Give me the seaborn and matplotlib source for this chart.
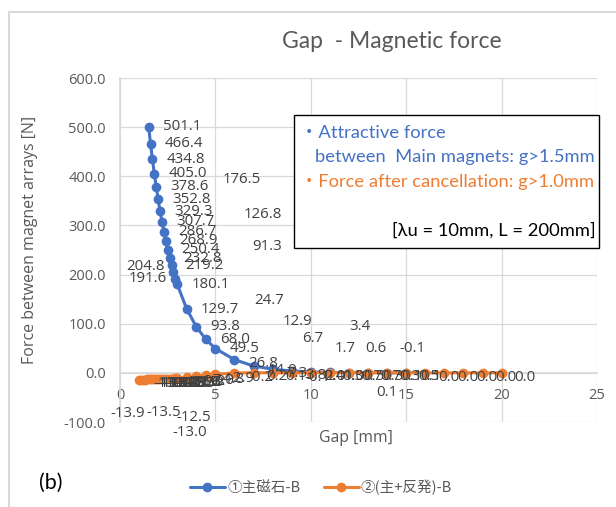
import matplotlib
matplotlib.use("Agg")
import matplotlib.pyplot as plt
import seaborn as sns
import numpy as np
from matplotlib.patches import Rectangle
from matplotlib.lines import Line2D
from matplotlib.font_manager import FontProperties

# ---------------- data ----------------
blue_gap = [1.5, 1.6, 1.7, 1.8, 1.9, 2.0, 2.1, 2.2, 2.3, 2.4, 2.5, 2.6, 2.7, 2.8, 2.9, 3.0,
            3.5, 4.0, 4.5, 5.0, 6, 7, 8, 9, 10, 11, 12, 13, 14, 15]
blue_force = [501.1, 466.4, 434.8, 405.0, 378.6, 352.8, 329.3, 307.7, 286.7, 268.9, 250.4,
              232.8, 219.2, 204.8, 191.6, 180.1, 129.7, 93.8, 68.0, 49.5, 26.8, 14.0, 7.3,
              3.8, 2.0, 1.0, 0.5, 0.3, 0.1, 0.1]

orange_gap = [1.0, 1.1, 1.2, 1.3, 1.4, 1.5, 1.6, 1.7, 1.8, 1.9, 2.0, 2.1, 2.2, 2.3, 2.4, 2.5,
              2.6, 2.7, 2.8, 2.9, 3.0, 3.5, 4.0, 4.5, 5.0, 6, 7, 8, 9, 10, 11, 12, 13, 14,
              15, 16, 17, 18, 19, 20]
orange_force = [-13.9, -13.8, -13.7, -13.6, -13.5, -13.4, -13.3, -13.2, -13.1, -13.0, -12.9,
                -12.8, -12.7, -12.6, -12.5, -12.3, -12.1, -11.9, -11.6, -11.3, -11.0, -9.2,
                -7.0, -4.8, -2.9, -0.2, 0.2, 0.1, -0.1, 0.4, 0.3, 0.7, 0.7, 0.3, 0.5, 0.0,
                0.0, 0.0, 0.0, 0.0]

# extra (displaced) data labels shown in the original chart
extra_labels = [176.5, 126.8, 91.3, 24.7, 12.9, 6.7, 3.4, 1.7, 0.6, -0.1, 0.1]

series_names = ["①主磁石-B", "②(主+反発)-B"]
title = "Gap  - Magnetic force"
xlabel = "Gap [mm]"
ylabel = "Force between magnet arrays [N]"
x_ticks = [0, 5, 10, 15, 20, 25]
y_ticks = [-100, 0, 100, 200, 300, 400, 500, 600]

# ---------------- layout / style ----------------
BLUE = "#4472C4"
ORANGE = "#ED7D31"
GREY = "#595959"
LBL = "#404040"
NUMF = ["Open Sans", "Noto Sans CJK JP", "DejaVu Sans"]
CALF = ["Lato", "Noto Sans CJK JP", "DejaVu Sans"]
JPF = ["Noto Sans CJK JP", "DejaVu Sans"]

sns.set_theme(style="white")
plt.rcParams["font.family"] = NUMF

fig = plt.figure(figsize=(6.16, 5.07), dpi=100)
ax = fig.add_axes([120 / 616, 1 - 422 / 507, (597 - 120) / 616, (422 - 78) / 507])

sns.lineplot(x=blue_gap, y=blue_force, ax=ax, color=BLUE, marker="o", markersize=7,
             markeredgewidth=0, linewidth=2.2, sort=False, zorder=3)
sns.lineplot(x=orange_gap, y=orange_force, ax=ax, color=ORANGE, marker="o", markersize=7,
             markeredgewidth=0, linewidth=2.2, sort=False, zorder=4)

ax.set_xlim(0, 25)
ax.set_ylim(-100, 600)
ax.set_xticks(x_ticks)
ax.set_yticks(y_ticks)
ax.set_xticklabels([str(t) for t in x_ticks])
ax.set_yticklabels([f"{t:.1f}" for t in y_ticks])
ax.grid(True, color="#D9D9D9", linewidth=0.9)
ax.set_axisbelow(True)
for s in ["top", "right"]:
    ax.spines[s].set_visible(False)
ax.spines["left"].set_color("#D9D9D9")
ax.spines["bottom"].set_color("#D9D9D9")
ax.spines["bottom"].set_position(("data", 0))
ax.tick_params(axis="both", length=0, colors=GREY, labelsize=10.5)
ax.tick_params(axis="x", pad=11)
ax.tick_params(axis="y", pad=10)
ax.set_xlabel("")
ax.set_ylabel("")

LFS = 10.8
# data labels: blue
left_side = {13, 14}
for i, (x, y) in enumerate(zip(blue_gap, blue_force)):
    if i in left_side:
        ax.annotate(f"{y:.1f}", (x, y), xytext=(-6, 4 if i == 13 else 0), textcoords="offset points",
                    ha="right", va="center", fontsize=LFS, color=LBL, zorder=6)
    else:
        ax.annotate(f"{y:.1f}", (x, y), xytext=(10, 0 if y > 40 else -3), textcoords="offset points",
                    ha="left", va="center", fontsize=LFS, color=LBL, zorder=6)

# data labels: orange
below = {0: (-8, -24), 4: (12, -24), 14: (20, -28), 9: (24, -38)}
for i, (x, y) in enumerate(zip(orange_gap, orange_force)):
    dx, dy = below.get(i, (9, -3))
    ha = "center" if i in below else "left"
    ax.annotate(f"{y:.1f}", (x, y), xytext=(dx, dy), textcoords="offset points",
                ha=ha, va="center", fontsize=LFS, color=LBL, zorder=6)

# displaced labels (positions of the labels in data units)
extra_pos = [(6.4, 394), (7.5, 322), (7.7, 257), (7.8, 148), (9.3, 104), (10.1, 69),
             (12.6, 94), (11.8, 49), (13.4, 49), (15.3, 49), (14.0, -39)]
for v, (px, py) in zip(extra_labels, extra_pos):
    ax.text(px, py, f"{v:.1f}", ha="center", va="center", fontsize=LFS, color=LBL, zorder=6)

# titles
fig.text(392 / 616, 1 - 42 / 507, title, ha="center", va="center", fontsize=16.5, color=GREY,
         family=CALF)
fig.text(356 / 616, 1 - 438 / 507, xlabel, ha="center", va="center", fontsize=11.3, color=GREY)
fig.text(30 / 616, 1 - 240 / 507, ylabel, ha="center", va="center", rotation=90,
         fontsize=11.5, color=GREY)
fig.text(51 / 616, 1 - 483 / 507, "(b)", ha="center", va="center", fontsize=15.5, color="black",
         family=CALF)

# annotation box
box = Rectangle((294 / 616, 1 - 248 / 507), (599 - 294) / 616, (248 - 115) / 507,
                transform=fig.transFigure, facecolor="white", edgecolor="black",
                linewidth=1.0, zorder=10)
fig.add_artist(box)
BFS = 13.2
fig.text(300 / 616, 1 - 133 / 507, "・Attractive force", ha="left", va="center",
         fontsize=BFS, color=BLUE, zorder=11, family=CALF)
fig.text(315 / 616, 1 - 157 / 507, "between  Main magnets: g>1.5mm", ha="left", va="center",
         fontsize=BFS, color=BLUE, zorder=11, family=CALF)
fig.text(300 / 616, 1 - 182 / 507, "・Force after cancellation: g>1.0mm", ha="left", va="center",
         fontsize=BFS, color=ORANGE, zorder=11, family=CALF)
fig.text(596 / 616, 1 - 230 / 507, "[λu = 10mm, L = 200mm]", ha="right", va="center",
         fontsize=BFS, color="black", zorder=11, family=CALF)

# legend
handles = [Line2D([], [], color=BLUE, marker="o", markersize=7, markeredgewidth=0, linewidth=2.2),
           Line2D([], [], color=ORANGE, marker="o", markersize=7, markeredgewidth=0, linewidth=2.2)]
leg = fig.legend(handles, series_names, loc="center", bbox_to_anchor=(321 / 616, 1 - 487 / 507),
                 ncol=2, frameon=False, prop=FontProperties(family=JPF, size=10.5),
                 handlelength=2.4, columnspacing=1.6, handletextpad=0.15)
for t in leg.get_texts():
    t.set_color(GREY)

# chart border
border = Rectangle((9 / 616, -0.1), 1.2, 1 - 12 / 507 + 0.1, transform=fig.transFigure,
                   facecolor="none", edgecolor="#D9D9D9", linewidth=1.5, zorder=0)
fig.add_artist(border)

fig.savefig("out.png", dpi=100)
